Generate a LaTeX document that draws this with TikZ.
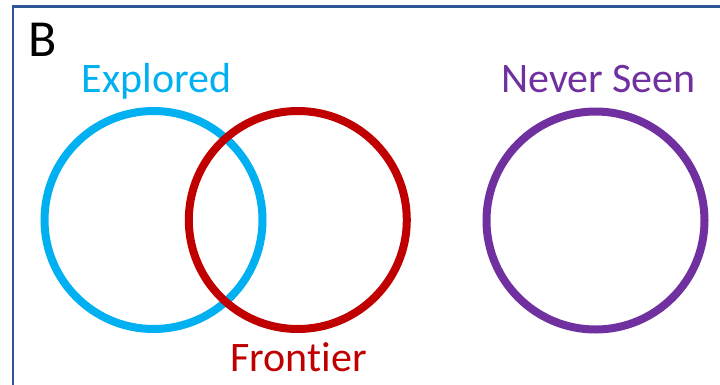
\documentclass[tikz,border=0pt]{standalone}
\usepackage{fontspec}
\setmainfont{Carlito}[Ligatures=NoCommon]
\definecolor{cblue}{HTML}{00B0F0}
\definecolor{cred}{HTML}{C00000}
\definecolor{cpurple}{HTML}{7030A0}
\definecolor{cframe}{HTML}{2F5597}
\tikzset{
  ring/.style={circle, draw, line width=8pt, minimum size=218pt, inner sep=0pt},
  lbl/.style={anchor=base, inner sep=0pt, font=\fontsize{42}{50}\selectfont}
}
\begin{document}
\begin{tikzpicture}[x=1pt,y=-1pt]
\useasboundingbox (0,0) rectangle (720,384);
\draw[cframe, line width=2.2pt] (13,6.5) rectangle (740,400);
\node[anchor=base west, inner sep=0pt, font=\fontsize{52}{60}\selectfont] (B) at (28,56) {B};
\node[ring, cblue] (explored) at (153.5,220) {};
\node[ring, cred] (frontier) at (297.8,220) {};
\node[ring, cpurple] (never) at (595.5,220.5) {};
\node[lbl, text=cblue] (tExplored) at (156.5,92.5) {Explored};
\node[lbl, text=cred] (tFrontier) at (298.5,371.5) {Frontier};
\node[lbl, text=cpurple] (tNever) at (598.5,92) {Never Seen};
\end{tikzpicture}
\end{document}
